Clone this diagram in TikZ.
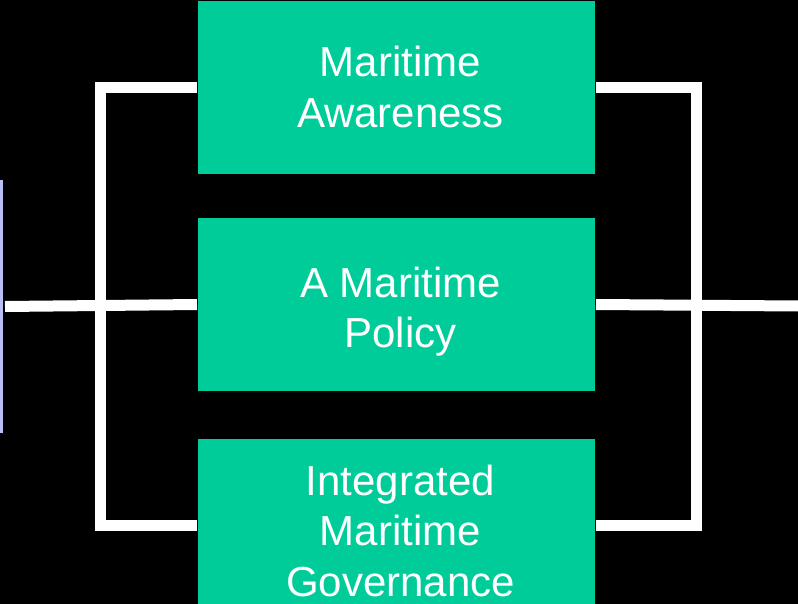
\documentclass[tikz,border=0pt]{standalone}
\usepackage{fontspec}
\setmainfont{Liberation Sans}
\definecolor{boxgreen}{RGB}{0,204,153}
\definecolor{lavender}{RGB}{185,192,245}
\begin{document}
\begin{tikzpicture}[x=1pt,y=-1pt,
  greenbox/.style={fill=boxgreen, draw=none, minimum width=397pt, minimum height=173pt, inner sep=0pt, outer sep=0pt, anchor=north west},
  boxtext/.style={text=white, font=\fontsize{42}{50.5}\selectfont, align=center, inner sep=0pt},
  wire/.style={draw=white, line width=11pt, line join=miter}]
\useasboundingbox (0,0) rectangle (798,604);
\fill[black] (0,0) rectangle (798,604);
\clip (0,0) rectangle (798,604);
% source box at the left edge
\node[fill=lavender, minimum width=60pt, minimum height=253pt, inner sep=0pt, outer sep=0pt, anchor=north east] (src) at (3,180) {};
% green boxes
\node[greenbox] (box1) at (198,1) {};
\node[greenbox] (box2) at (198,218) {};
\node[greenbox] (box3) at (198,439) {};
\node[boxtext] (t1) at (400.5,87) {Maritime\\Awareness};
\node[boxtext] (t2) at (400.5,311.5) {A Maritime\\Policy};
\node[boxtext] (t3) at (400.5,530.5) {Integrated\\Maritime\\Governance};
\coordinate (rightend) at (798,306);
% brackets
\draw[wire] ([xshift=-1pt]box1.west) -| (100.5,305) |- ([xshift=-1pt]box3.west);
\draw[wire] ([xshift=1pt]box1.east) -| (696.5,305) |- ([xshift=1pt]box3.east);
% middle connectors
\draw[wire] ([xshift=2pt]src.east) -- ([xshift=-1pt]box2.west);
\draw[wire] ([xshift=1pt]box2.east) -- (rightend);
\end{tikzpicture}
\end{document}
